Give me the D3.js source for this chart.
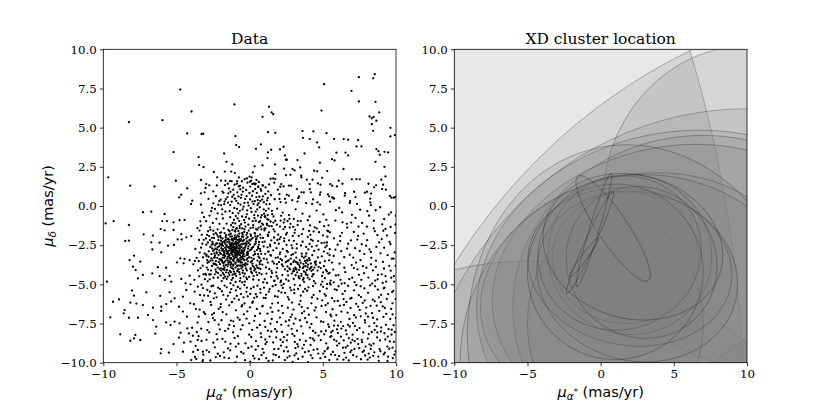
<!DOCTYPE html>
<html>
<head>
<meta charset="utf-8">
<script src="https://cdn.jsdelivr.net/npm/d3@7"></script>
<style>
  body { margin: 0; background: #fff; }
  svg { display: block; }
</style>
</head>
<body>
<div id="chart"></div>
<script>
const topPts = [
  -4.74,7.43, -1.04,6.48, -3.97,6.03, -8.25,5.35, -5.95,5.48, -4.27,4.63, -3.29,4.59, -3.17,4.61, -0.97,4.46, -0.92,3.89,
  -0.72,3.76, -5.2,3.44, -1.74,3.35, -3.49,3.12, -1.58,2.82, -1.19,2.65, -3.45,2.61, -3.15,2.48, -9.66,1.83, -8.16,1.3,
  -6.5,1.25, -5.04,1.61, -3.33,1.66, -2.45,2.17, -2.22,1.83, -1.7,2.2, -1.26,2.2, -1.01,2.1, -1.65,1.61, -1.49,1.42,
  -1.35,1.59, -0.85,1.59, -0.74,1.25, -0.19,1.76, -0.01,1.87, -2.97,1.4, -2.76,1.32, -3.01,1.15, -4.27,1.12, -4.68,0.72,
  -4.81,0.55, -3.33,0.81, -3.08,0.87, -3.92,0.34, -4.0,0.13, -3.33,0.08, -2.31,0.63, -2.07,0.31, -1.86,0.92, -1.63,0.44,
  -1.41,1.12, -2.48,0.17, -1.95,0.05, -1.69,1.33,
  7.46,8.22, 8.55,8.41, 8.44,8.15, 5.09,7.77, 6.96,7.35, 1.32,6.33, 1.5,5.97, 1.61,5.86, 0.88,5.69, 4.91,6.09,
  7.46,6.67, 8.6,6.65, 8.85,5.97, 8.19,5.71, 8.35,5.6, 8.48,5.69, 8.66,5.44, 8.35,5.22, 8.44,4.8, 9.62,4.99,
  9.62,4.44, 9.92,4.52, 1.25,4.71, 1.75,4.67, 3.61,4.78, 4.36,4.76, 5.25,4.65, 3.64,4.35, 4.11,4.27, 4.61,4.06,
  4.75,3.74, 5.77,4.27, 6.43,4.27, 6.73,4.23, 7.41,4.2, 7.3,3.8, 7.64,3.8, 0.43,3.65, 0.77,3.93, 1.25,3.42,
  1.47,3.59, 2.07,3.61, 2.32,3.78, 2.41,3.23, 2.48,2.95, 2.54,2.95, 1.22,3.06, 3.75,3.35, 3.27,2.93, 5.93,3.4,
  5.62,2.99, 5.8,2.91, 6.55,3.4, 6.73,3.23, 8.66,3.63, 8.8,3.5, 8.89,3.27, 9.21,3.46, 9.46,3.42, 8.6,2.82,
  9.21,2.5, 0.34,2.53, 0.88,2.59, 1.73,2.65, 2.36,2.38, 2.93,2.36, 3.07,2.27, 3.45,2.46, 4.8,2.76, 5.3,2.23,
  6.41,2.36, 4.41,2.25, 4.61,2.21, 0.22,2.14, 1.75,2.04, 2.48,1.97, 2.79,1.99, 3.52,1.93, 3.54,1.83, 3.91,1.68,
  4.11,1.4, 4.3,1.68, 4.96,1.8, 4.66,1.44, 4.84,1.36, 6.09,1.61, 6.98,1.7, 7.3,1.72, 7.53,1.7, 5.5,1.4,
  5.64,1.3, 5.96,1.25, 6.34,1.42, 8.12,1.42, 9.0,1.68, 9.12,1.36, 9.28,1.89, 8.5,1.19, 7.87,0.85, 8.3,0.79,
  9.69,0.53, 9.85,0.53, 0.13,1.83, 0.02,1.55, 0.18,1.4, 0.41,1.42, 0.59,1.25, 0.91,1.3, 0.75,1.08, 1.32,1.38,
  1.68,1.49, 1.75,1.72, 1.43,1.74, 1.61,1.76, 2.16,1.4, 2.09,1.23, 2.32,1.25, 2.68,1.3, 2.84,1.3, 3.23,1.08,
  3.54,0.87, 3.7,0.87, 2.54,0.72, 2.68,0.66, 2.41,0.45, 2.04,0.45, 2.11,0.25, 3.32,0.51, 3.27,0.28, 4.11,1.08,
  4.18,0.87, 4.84,0.87, 4.8,0.72, 5.34,0.74, 5.43,0.62, 5.64,0.55, 5.77,0.47, 6.5,0.66, 6.84,0.19, 7.14,0.91,
  7.23,0.57, 5.5,0.28, 4.64,0.23, 4.27,0.13, 8.25,0.23, 8.28,0.06, 9.05,1.08, 8.64,1.32
];

const leftPts = [
  -9.29,-0.96, -9.84,-1.11, -8.25,-1.21, -7.29,-0.4, -6.72,-0.36, -5.81,-0.51, -5.97,-0.96, -5.65,-0.96, -5.2,-1.04, -4.79,-0.91,
  -4.45,-0.89, -6.08,-1.47, -5.81,-1.55, -5.2,-1.53, -7.24,-1.81, -6.61,-1.89, -4.67,-1.79, -4.33,-2.0, -3.99,-1.92, -4.92,-2.13,
  -4.65,-2.13, -8.5,-2.23, -8.25,-2.21, -6.72,-2.32, -6.15,-2.34, -5.17,-2.49, -6.65,-2.77, -5.58,-2.53, -6.04,-2.96, -7.9,-3.17,
  -8.2,-3.45, -7.47,-3.55, -4.74,-3.34, -4.45,-3.38, -4.1,-3.45, -3.74,-3.51, -4.97,-3.6, -4.51,-3.66, -6.27,-3.91, -5.7,-3.94,
  -7.97,-3.87, -7.79,-4.09, -9.75,-4.83, -7.29,-4.4, -6.65,-4.3, -6.15,-4.47, -5.47,-4.47, -7.63,-4.62, -5.79,-4.72, -5.36,-4.83,
  -4.67,-4.66, -4.38,-4.94, -4.1,-4.45, -4.04,-5.0, -7.06,-5.51, -8.04,-5.4, -7.9,-5.72, -6.11,-5.74, -5.47,-5.51, -9.34,-6.11,
  -8.93,-5.96, -8.15,-6.17, -7.74,-6.23, -7.29,-6.32, -6.61,-6.49, -6.04,-6.43, -5.7,-6.26, -5.36,-6.09, -5.13,-5.89, -4.83,-6.43,
  -8.54,-6.64, -8.61,-6.85, -8.25,-7.13, -9.52,-7.11, -7.63,-7.13, -6.95,-6.96, -6.61,-7.28, -6.04,-6.7, -5.7,-7.43, -5.4,-7.6,
  -5.13,-7.38, -4.79,-7.49, -6.38,-7.7, -6.45,-8.15, -8.84,-8.19, -7.81,-8.23, -7.9,-8.45, -8.15,-8.6, -7.47,-8.55, -5.2,-8.81,
  -4.49,-8.72, -6.04,-9.13, -6.08,-9.4, -5.52,-9.36, -4.56,-9.3, -3.99,-9.83, -3.65,-9.77, -3.88,-8.28, -4.15,-8.13, -4.04,-8.66,
  -3.54,-8.55, -4.72,-8.09, -4.83,-8.4, -4.26,-7.81, -3.54,-9.19, -3.19,-9.3, -3.19,-9.83, -4.56,-6.74, -4.29,-7.06, -4.06,-6.21,
  -4.56,-5.79, -4.33,-5.36, -3.76,-5.47, -3.54,-5.15
];

const corePts = [
  -1.02,-2.84, -0.88,-2.71, -1.17,-2.96, -0.93,-3.08, -1.11,-2.55, -0.71,-2.92, -1.28,-2.74, -0.64,-2.47, -1.39,-3.18, -0.52,-3.02,
  -1.47,-2.63, -0.95,-2.27, -1.22,-2.35, -0.43,-2.71, -1.58,-3.04, -0.82,-3.39, -1.09,-3.52, -0.34,-3.21, -1.66,-2.41, -0.61,-3.61,
  -0.99,-2.12, -1.76,-2.88, -0.27,-2.53, -1.31,-3.77, -0.74,-2.16, -1.84,-3.29, -0.18,-2.98, -1.42,-2.14, -0.49,-3.88, -1.93,-2.69,
  -0.97,-2.77, -1.06,-2.93, -0.86,-2.86, -1.14,-2.66, -0.77,-2.69, -1.24,-2.91, -0.91,-2.49, -1.12,-3.21, -0.66,-3.14, -1.36,-2.44,
  -1.53,-3.36, -0.46,-2.24, -1.63,-2.17, -0.37,-3.46, -1.71,-3.56, -0.23,-2.08, -1.79,-3.67, -0.16,-3.72, -1.86,-2.29, -0.07,-2.36,
  -1.04,-2.61, -0.81,-3.01, -1.19,-3.11, -0.69,-2.81, -1.33,-2.57, -0.56,-2.63, -1.44,-2.86, -0.59,-3.27, -1.26,-3.33, -0.79,-2.39,
  -1.01,-3.01, -0.89,-3.24, -1.16,-2.41, -0.73,-3.46, -1.49,-2.96, -0.41,-2.91, -1.61,-2.77, -0.31,-2.66, -1.69,-3.19, -0.13,-3.12,
  -0.94,-2.63, -1.08,-2.79, -0.84,-2.96, -1.21,-2.59, -0.67,-2.57, -1.29,-3.04, -0.54,-2.84, -1.37,-3.31, -0.47,-3.17, -1.56,-2.51,
  -1.13,-2.22, -0.76,-3.57, -1.45,-3.62, -0.39,-2.41, -1.81,-2.54, -0.21,-3.42, -1.74,-2.99, -0.11,-2.72, -1.89,-3.49, -0.29,-3.81,
  -0.96,-2.91, -1.03,-2.69, -0.87,-2.59, -1.18,-2.83, -0.62,-2.99, -1.27,-2.49, -0.51,-2.44, -1.41,-2.68, -0.83,-3.13, -1.07,-3.37,
  -2.12,-3.13, -2.31,-3.52, -2.44,-2.04, -2.57,-3.83, -2.69,-2.61, -2.81,-3.24, -2.05,-4.01, -2.23,-2.38, -2.38,-4.36, -2.51,-2.86,
  -2.64,-4.12, -2.77,-1.92, -2.88,-3.62, -2.02,-1.71, -2.17,-4.57, -2.35,-2.72, -2.48,-1.58, -2.61,-3.34, -2.73,-4.68, -2.85,-2.33,
  -1.97,-3.98, -1.83,-4.27, -1.68,-4.51, -1.54,-4.08, -1.38,-4.41, -1.23,-4.72, -1.08,-4.19, -0.92,-4.46, -0.78,-4.03, -0.63,-4.61,
  -0.48,-4.27, -0.33,-4.83, -0.19,-4.11, -0.04,-4.52, 0.11,-4.21, 0.24,-4.69, 0.38,-4.02, 0.51,-4.41, -1.91,-4.79, -1.31,-4.93,
  -1.94,-1.68, -1.77,-1.43, -1.61,-1.86, -1.46,-1.52, -1.29,-1.77, -1.12,-1.35, -0.98,-1.63, -0.82,-1.88, -0.68,-1.41, -0.52,-1.72,
  -0.36,-1.49, -0.22,-1.84, -0.06,-1.57, 0.09,-1.91, 0.23,-1.38, 0.37,-1.76, 0.52,-1.52, -2.19,-1.49, -2.46,-1.81, -2.71,-1.36,
  0.04,-2.21, 0.16,-2.68, 0.27,-3.14, 0.41,-2.39, 0.53,-3.48, 0.08,-3.57, 0.21,-2.03, 0.34,-2.91, 0.46,-3.79, 0.58,-2.61,
  0.12,-3.31, 0.29,-3.91, 0.44,-2.12, 0.57,-3.07, 0.02,-2.83, 0.19,-3.68, 0.33,-2.47, 0.49,-2.81, 0.61,-3.97, 0.06,-3.97,
  -2.09,-2.58, -2.27,-3.77, -2.41,-3.02, -2.54,-2.29, -2.67,-3.48, -2.79,-2.89, -2.14,-2.17, -2.33,-4.06, -2.47,-3.66, -2.59,-2.47,
  -1.99,-3.44, -2.07,-2.83, -1.96,-2.21, -2.21,-3.31, -2.36,-2.51, -2.03,-3.71, -2.26,-2.94, -2.42,-3.29, -2.16,-4.28, -1.98,-4.43,
  -1.72,-3.94, -1.51,-3.85, -1.19,-3.97, -0.86,-3.83, -0.57,-3.98, -0.26,-3.99, -1.35,-4.14, -1.03,-4.34, -0.71,-4.22, -0.41,-4.49,
  -1.64,-1.99, -1.32,-1.96, -1.01,-1.87, -0.72,-1.95, -0.44,-1.97, -0.14,-1.99, -1.85,-2.07, -1.49,-2.12, -1.18,-1.53, -0.88,-1.42,
  -2.93,-3.93, -2.96,-2.47, -2.98,-4.39, -2.91,-1.84, -2.95,-3.11, -2.87,-4.81, -2.99,-2.07, -2.84,-1.61, -2.9,-3.45, -2.76,-4.37,
  -1.57,-4.66, -1.14,-4.59, -0.67,-4.79, -0.18,-4.67, 0.27,-4.46, -1.76,-4.38, -0.96,-4.85, -0.51,-4.88, -1.44,-4.27, -0.85,-4.16,
  0.64,-2.29, 0.68,-3.32, 0.72,-1.83, 0.66,-4.28, 0.71,-2.73, 0.69,-3.71, 0.75,-2.03, 0.62,-4.73, 0.79,-3.05, 0.74,-4.02
];

const core2Pts = [
  -2.71,-2.18, -2.43,-3.71, -2.19,-2.64, -1.94,-4.12, -1.67,-3.21, -1.41,-1.83, -1.16,-4.38, -0.89,-2.37, -0.63,-3.82, -0.37,-1.66,
  -0.11,-3.03, 0.16,-4.29, 0.42,-2.26, 0.68,-3.58, -2.84,-4.07, -2.57,-2.71, -2.31,-1.73, -2.06,-3.39, -1.79,-4.61, -1.53,-2.29,
  -1.27,-3.62, -1.02,-1.59, -0.76,-4.04, -0.49,-2.88, -0.23,-4.57, 0.03,-2.46, 0.29,-3.37, 0.55,-1.93, -2.96,-3.18, -2.68,-1.52,
  -2.47,-4.58, -2.24,-3.02, -1.98,-2.02, -1.72,-4.09, -1.47,-3.49, -1.21,-2.11, -0.96,-3.93, -0.71,-1.76, -0.44,-3.36, -0.18,-2.26,
  0.07,-4.05, 0.34,-1.72, 0.61,-3.24, -2.79,-3.57, -2.52,-2.42, -2.28,-4.21, -2.01,-1.91, -1.76,-3.11, -1.5,-4.51, -1.24,-2.99,
  -0.98,-3.69, -0.72,-2.13, -0.46,-4.11, -0.2,-3.12, 0.06,-1.82, 0.32,-4.12, 0.58,-2.71, -2.66,-4.36, -2.39,-3.28, -2.14,-1.97,
  -1.88,-2.84, -1.62,-3.76, -1.37,-2.37, -1.11,-4.04, -0.86,-3.48, -0.6,-2.22, -0.34,-3.71, -0.08,-2.58, 0.18,-3.49, 0.45,-4.23,
  -1.92,-2.52, -1.68,-2.67, -1.43,-3.08, -1.17,-2.79, -0.92,-3.27, -0.66,-2.71, -0.41,-3.06, -1.81,-3.14, -1.56,-2.89, -1.31,-3.41,
  -1.06,-2.42, -0.81,-2.86, -0.56,-3.42, -1.73,-2.31, -1.49,-3.24, -1.24,-2.65, -0.99,-3.14, -0.74,-2.51, -0.49,-2.97, -1.95,-3.41,
  -1.34,-2.83, -0.84,-2.33, -1.14,-3.46, -0.64,-3.32, -1.59,-2.58, -0.93,-2.04, -1.26,-3.68, -0.58,-2.12, -1.83,-2.76, -1.02,-3.28,
  -2.23,-2.77, -2.37,-3.16, -2.11,-3.57, -2.54,-3.47, -2.29,-2.41, -2.42,-2.79, -2.18,-3.93, -2.61,-3.07, -2.05,-2.39, -2.34,-3.71,
  -1.61,-4.23, -1.28,-4.22, -0.97,-4.31, -0.67,-4.36, -0.33,-4.32, -1.82,-4.03, -1.12,-3.81, -0.52,-3.61, -0.12,-3.53, 0.21,-3.82,
  -1.71,-1.73, -1.38,-1.61, -1.07,-2.08, -0.77,-1.59, -0.47,-1.83, -0.17,-1.71, 0.12,-2.12, 0.39,-1.94, -2.22,-1.84, -2.58,-2.03,
  -0.27,-2.37, 0.11,-2.77, 0.37,-3.06, 0.63,-2.47, 0.77,-3.49, 0.52,-3.92, 0.24,-2.61, -0.03,-3.27, 0.47,-2.06, 0.73,-2.88,
  -1.88,-2.42, -1.63,-3.48, -1.39,-2.27, -1.14,-3.74, -0.89,-1.98, -0.64,-3.53, -0.39,-2.17, -0.14,-3.34, -1.96,-3.06, -1.71,-2.22,
  -1.46,-3.72, -1.21,-1.94, -0.96,-3.61, -0.71,-2.28, -0.46,-3.76, -0.21,-2.43, -1.77,-3.82, -1.52,-2.08, -1.27,-3.92, -1.02,-2.01,
  -0.77,-3.79, -0.52,-1.96, -0.27,-3.64, -0.02,-2.18, -2.04,-2.97, -1.86,-3.59, -1.36,-3.56, -0.86,-2.16, -0.36,-2.81, -1.62,-2.84,
  -1.12,-2.14, -0.62,-3.79, -0.12,-2.91, -1.99,-2.47, -1.49,-3.02, -0.99,-2.37, -0.49,-3.24, -1.74,-3.31, -1.24,-2.15, -0.74,-3.07
];

const armPts = [
  -0.12,0.21, 0.08,-0.14, -0.31,0.44, 0.27,0.12, -0.48,-0.22, 0.41,-0.36, -0.62,0.09, 0.55,0.38, -0.77,-0.47, 0.69,-0.08,
  -0.91,0.33, 0.83,-0.59, -1.05,-0.12, 0.97,0.24, -1.19,0.58, 1.11,-0.31, -1.33,-0.71, 1.24,0.51, -0.19,-0.53, 0.16,0.66,
  -0.38,-0.89, 0.33,-0.77, -0.56,0.71, 0.49,0.84, -0.71,-0.96, 0.64,-1.03, -0.84,0.87, 0.79,0.97, -0.98,-1.11, 0.92,-1.19,
  -1.12,1.04, 1.07,0.77, -1.27,-1.23, 1.21,-0.84, -0.04,-0.81, 0.03,0.42, -0.24,1.02, 0.21,-0.97, -0.44,1.17, 0.38,1.09,
  -0.66,1.29, 0.58,1.21, -0.87,1.42, 0.76,-1.31, -1.03,1.36, 0.88,1.33, -0.15,1.49, 0.11,1.61, -0.34,1.71, 0.29,1.44,
  -0.53,1.58, 0.47,1.66, -0.74,1.82, 0.63,1.53, -0.09,-1.19, 0.06,-1.41, -0.29,-1.31, 0.24,-1.22, -0.51,-1.43, 0.44,-1.47,
  -0.69,-1.27, 0.61,-1.39, -0.92,-1.46, 0.81,-1.49, -1.16,-1.08, 1.01,-1.44, -1.37,-0.33, 1.17,-1.12, -1.48,0.22, 1.29,-0.17,
  -0.07,0.03, 0.13,-0.38, -0.21,0.63, 0.35,0.31, -0.42,-0.04, 0.52,-0.21, -0.59,0.52, 0.67,0.59, -0.79,0.17, 0.86,0.41,
  -0.94,-0.64, 0.99,-0.49, -1.09,0.71, 1.14,0.11, -1.23,0.27, 1.27,0.93, -0.17,-0.28, 0.19,0.28, -0.36,0.19, 0.31,-0.58,
  -0.52,-0.67, 0.46,0.57, -0.67,-0.31, 0.61,0.18, -0.82,-0.79, 0.77,-0.73, -0.01,0.83, 0.04,1.24, -0.26,-0.71, 0.22,0.94,
  -0.47,0.92, 0.42,-0.94, -0.64,1.07, 0.57,-0.62, -0.86,-0.18, 0.73,0.33, -1.01,0.47, 0.91,0.62, -1.16,-0.44, 1.04,-0.67,
  -0.33,-1.06, 0.36,1.38, -0.58,-1.16, 0.54,0.07, -0.76,0.61, 0.71,-0.97, -1.07,-0.88, 1.09,1.19, -1.31,0.91, 1.23,-0.58
];

const cloudPts = [
  0.84,-1.12, 1.03,-2.27, 1.17,-3.41, 1.32,-1.68, 1.46,-4.52, 1.61,-2.83, 1.75,-0.94, 1.89,-3.96, 2.04,-2.11, 2.18,-5.07,
  2.31,-1.47, 2.46,-3.22, 0.93,-4.88, 1.08,-0.71, 1.22,-2.64, 1.37,-5.31, 1.51,-1.29, 1.66,-3.67, 1.81,-4.23, 1.95,-1.83,
  2.09,-2.96, 2.23,-4.41, 2.38,-0.86, 2.52,-2.48, 0.87,-3.74, 1.01,-1.56, 1.15,-4.31, 1.29,-2.92, 1.43,-0.99, 1.57,-5.12,
  1.72,-2.36, 1.86,-1.19, 2.01,-3.58, 2.15,-0.63, 2.27,-3.84, 2.42,-5.54, 0.96,-2.58, 1.12,-5.66, 1.26,-1.91, 1.41,-3.13,
  1.54,-0.52, 1.69,-4.77, 1.83,-2.69, 1.98,-5.43, 2.12,-1.98, 2.26,-2.74, 2.41,-4.04, 2.55,-1.71, 0.91,-2.04, 1.06,-3.05,
  1.19,-1.21, 1.34,-4.02, 1.48,-2.19, 1.63,-1.49, 1.78,-3.31, 1.92,-4.62, 2.07,-1.31, 2.21,-3.47, 2.36,-2.25, 2.49,-4.68,
  0.82,-4.36, 1.24,-3.61, 1.67,-2.01, 2.11,-4.86, 2.47,-3.59, 1.39,-2.47, 1.86,-3.71, 0.98,-5.21, 2.33,-1.06, 1.53,-4.28,
  2.61,-2.94, 2.74,-1.37, 2.88,-4.31, 3.02,-2.22, 3.16,-3.57, 3.29,-0.96, 3.43,-3.91, 3.57,-1.79, 3.71,-4.18, 3.86,-2.61,
  3.99,-3.74, 4.13,-1.24, 4.27,-4.49, 4.41,-2.87, 2.66,-4.77, 2.81,-3.36, 2.94,-1.91, 3.08,-5.03, 3.22,-2.71, 3.36,-4.58,
  3.49,-3.62, 3.63,-3.97, 3.77,-3.51, 3.91,-4.09, 4.05,-3.33, 4.19,-2.14, 4.33,-5.11, 4.46,-3.58, 2.69,-2.19, 2.84,-5.38,
  2.97,-3.07, 3.11,-1.52, 3.25,-4.24, 3.39,-3.78, 3.53,-4.33, 3.67,-3.69, 3.81,-3.83, 3.95,-4.41, 4.09,-2.42, 4.23,-3.88,
  4.37,-1.62, 2.58,-3.86, 2.72,-0.82, 2.86,-2.51, 3.01,-4.66, 3.14,-2.97, 3.28,-1.21, 3.42,-3.46, 3.56,-3.04, 3.69,-4.61,
  3.83,-3.22, 3.97,-1.97, 4.11,-4.02, 4.25,-2.59, 4.39,-4.79, 3.17,-4.01, 3.96,-3.49, 4.33,-4.36, 2.98,-3.58, 3.35,-4.47,
  4.18,-3.94, 3.64,-4.71, 2.81,-3.71, 4.49,-3.66, 3.04,-4.14, 2.77,-5.21, 3.05,-5.56, 3.31,-5.29, 3.66,-5.47, 4.02,-5.19,
  -3.12,-0.71, -3.27,-1.84, -3.41,-2.97, -3.53,-4.11, -3.19,-5.24, -3.34,-1.26, -3.48,-3.52, -3.06,-4.67, -3.23,-2.41, -3.39,-5.68,
  -3.08,-3.03, -3.21,-3.81, -3.37,-0.98, -3.45,-4.49, -3.14,-2.16, -3.29,-5.02, -3.43,-1.57, -3.03,-4.34, -3.18,-3.28, -3.32,-2.66,
  -2.16,-5.21, -2.38,-5.57, -2.61,-5.12, -2.84,-5.73, -2.27,-0.82, -2.52,-1.08, -2.74,-0.61, -2.06,-1.14, -2.89,-5.36, -2.45,-5.89,
  -2.19,-0.47, -2.63,-0.33, -1.89,-5.44, -1.71,-5.08, -1.49,-5.73, -1.26,-5.31, -1.04,-5.91, -0.81,-5.17, -0.59,-5.62, -0.36,-5.04,
  -0.13,-5.77, 0.09,-5.28, 0.31,-5.86, 0.53,-5.09, 0.74,-5.54, -1.61,-5.97, -0.94,-5.39, -0.22,-5.48, 0.42,-5.63, -1.83,-0.79,
  -1.66,-0.36, -1.58,-1.13, -1.74,0.12, -1.87,-0.53, -1.98,0.41, -2.14,0.08, -2.37,-0.19, -1.52,0.57, -1.79,0.84,
  4.58,-1.43, 4.71,-2.79, 4.86,-3.96, 5.01,-1.88, 5.14,-4.61, 5.29,-2.33, 5.43,-3.47, 4.64,-4.12, 4.79,-1.02, 4.93,-3.21,
  5.07,-2.91, 5.21,-4.07, 5.36,-1.61, 4.52,-3.54, 4.97,-4.83, 5.24,-0.88, 5.47,-2.76, 4.68,-2.24
];

const cloud2Pts = [
  1.08,-1.43, 1.27,-2.91, 1.49,-4.14, 1.71,-1.62, 1.93,-3.28, 2.14,-4.77, 2.36,-2.06, 2.58,-3.51, 2.79,-1.14, 3.01,-4.02,
  3.22,-2.43, 3.44,-5.07, 3.66,-1.48, 3.87,-3.03, 4.09,-4.68, 4.31,-2.21, 4.52,-3.76, 4.74,-1.67, 4.95,-4.46, 5.17,-2.64,
  0.97,-3.36, 1.19,-4.91, 1.41,-2.57, 1.62,-1.06, 1.84,-4.48, 2.06,-3.07, 2.27,-5.23, 2.49,-1.82, 2.71,-3.98, 2.92,-2.69,
  3.14,-4.42, 3.35,-1.91, 3.57,-3.21, 3.79,-5.29, 4.01,-2.77, 4.22,-4.14, 4.44,-1.36, 4.66,-3.28, 4.87,-5.02, 5.09,-1.29,
  0.88,-2.31, 1.11,-3.92, 1.33,-1.28, 1.56,-3.54, 1.77,-5.04, 1.99,-2.41, 2.2,-3.73, 2.42,-1.34, 2.63,-4.43, 2.85,-3.14,
  3.07,-1.71, 3.28,-3.69, 3.51,-2.52, 3.72,-4.84, 3.93,-3.46, 4.15,-1.84, 4.37,-4.36, 4.58,-2.53, 4.81,-3.62, 5.02,-4.24,
  1.03,-4.67, 1.24,-1.83, 1.46,-3.17, 1.68,-4.79, 1.89,-2.17, 2.11,-3.38, 2.33,-4.97, 2.54,-2.86, 2.76,-4.04, 2.98,-1.33,
  3.19,-3.29, 3.41,-4.62, 3.62,-2.28, 3.84,-4.37, 4.06,-1.59, 4.28,-3.14, 4.49,-4.94, 4.71,-3.89, 4.92,-2.37, 5.14,-3.52,
  2.83,-3.71, 3.12,-3.93, 3.38,-4.08, 3.69,-3.87, 3.96,-3.91, 4.18,-3.67, 2.96,-4.18, 3.27,-3.62, 3.54,-4.46, 3.82,-4.24,
  4.11,-3.45, 4.34,-4.07, 2.67,-3.47, 3.04,-3.48, 3.71,-3.29, 4.43,-3.93, 3.19,-4.06, 3.97,-4.57, 2.59,-4.16, 3.86,-3.63,
  -3.24,-0.43, -3.46,-2.17, -3.62,-3.31, -3.77,-4.71, -3.11,-5.71, -3.57,-1.41, -3.71,-2.74, -3.36,-3.96, -3.85,-3.72, -3.16,-4.36,
  -2.97,-0.97, -2.72,-5.47, -2.49,-5.09, -2.26,-5.83, -2.03,-5.29, -1.8,-5.67, -1.57,-5.19, -1.34,-5.52, -1.11,-5.06, -0.88,-5.74,
  -0.65,-5.27, -0.42,-5.83, -0.19,-5.21, 0.04,-5.61, 0.27,-5.17, 0.5,-5.79, 0.73,-5.31, 0.96,-5.86, -2.67,-6.12, -1.97,-6.26,
  -1.22,-6.14, -0.51,-6.33, 0.18,-6.18, 0.87,-6.41, 1.54,-6.23, 2.21,-6.37, 2.89,-6.16, 3.56,-6.44, 4.22,-6.21, 4.91,-6.38,
  1.31,-5.47, 1.73,-5.76, 2.17,-5.52, 2.61,-5.81, 3.04,-5.34, 3.49,-5.72, 3.93,-5.41, 4.37,-5.68, 4.79,-5.44, 5.21,-5.73,
  -2.48,0.93, -2.24,1.31, -1.96,1.62, -1.71,0.29, -1.46,0.81, -1.23,1.58, -2.81,0.46, -2.57,-0.12, -1.33,0.06, -1.87,-0.21,
  1.37,0.12, 1.52,-0.31, 1.71,0.43, 1.88,-0.17, 2.04,0.76, 2.26,-0.42, 2.47,0.21, 2.69,-0.58, 2.91,0.37, 3.14,-0.21,
  3.38,0.62, 3.61,-0.49, 3.86,0.18, 4.09,-0.67, 4.33,0.42, 4.57,-0.29, 4.81,0.09, 5.04,-0.54, 1.46,0.69, 1.93,1.04,
  0.96,-0.21, 1.19,0.36, 1.04,-0.67, 1.29,-0.88, 1.63,-0.67, 2.12,-0.93, 2.59,-0.97, 3.02,-0.83, 3.49,-0.96, 3.97,-0.91,
  5.31,-1.96, 5.46,-3.14, 5.38,-4.31, 5.49,-4.92, 5.27,-5.27
];

const eastPts = [
  5.12,-5.63, 5.34,-6.21, 5.58,-7.04, 5.81,-5.32, 6.03,-8.11, 6.27,-6.74, 6.49,-4.93, 6.72,-7.58, 6.96,-5.87, 7.18,-8.63,
  7.41,-6.42, 7.63,-4.71, 7.87,-7.29, 8.09,-5.54, 8.31,-8.91, 8.54,-6.08, 8.77,-4.39, 8.99,-7.76, 9.21,-5.21, 9.44,-8.34,
  9.67,-6.57, 9.88,-4.82, 5.23,-8.77, 5.46,-4.27, 5.69,-9.31, 5.92,-6.96, 6.14,-3.68, 6.38,-9.04, 6.61,-6.12, 6.84,-3.11,
  7.07,-9.52, 7.29,-5.04, 7.52,-2.87, 7.76,-8.07, 7.98,-3.94, 8.21,-9.67, 8.43,-7.13, 8.66,-2.61, 8.88,-9.13, 9.11,-3.57,
  9.33,-6.88, 9.56,-2.29, 9.78,-9.71, 5.04,-7.41, 5.27,-2.53, 5.51,-8.36, 5.74,-3.19, 5.97,-7.87, 6.19,-1.92, 6.43,-8.58,
  6.66,-2.72, 6.89,-6.51, 7.12,-1.66, 7.34,-7.92, 7.57,-3.46, 7.81,-9.23, 8.03,-2.18, 8.26,-6.37, 8.48,-1.43, 8.71,-8.39,
  8.94,-3.02, 9.16,-9.47, 9.39,-1.89, 9.61,-7.21, 9.83,-3.36, 5.16,-9.63, 5.39,-1.24, 5.63,-5.88, 5.86,-0.93, 6.08,-5.12,
  6.32,-0.41, 6.54,-4.22, 6.77,-9.86, 7.01,-4.58, 7.23,-0.76, 7.46,-5.69, 7.69,-1.08, 7.93,-6.86, 8.16,-0.62, 8.38,-4.96,
  8.61,-0.27, 8.83,-5.83, 9.06,-1.17, 9.28,-4.47, 9.51,-0.55, 9.73,-5.49, 9.94,-1.72, 5.08,-3.84, 5.31,-9.12, 5.54,-4.76,
  5.77,-8.53, 6.01,-2.47, 6.23,-7.39, 6.46,-3.27, 6.69,-8.92, 6.92,-2.19, 7.14,-6.97, 7.37,-4.04, 7.61,-9.78, 7.84,-5.26,
  8.07,-8.46, 8.29,-3.73, 8.52,-9.34, 8.74,-4.68, 8.97,-8.01, 9.19,-2.66, 9.42,-9.89, 9.64,-4.13, 9.86,-8.67, 5.19,-6.33,
  5.42,-7.72, 5.66,-6.59, 5.89,-4.43, 6.11,-9.58, 6.35,-5.61, 6.58,-7.94, 6.81,-4.67, 7.04,-8.21, 7.27,-3.61, 7.49,-9.07,
  7.73,-6.18, 7.96,-2.53, 8.18,-7.68, 8.41,-5.97, 8.63,-3.48, 8.86,-6.69, 9.09,-4.91, 9.31,-7.58, 9.54,-3.82, 9.76,-6.21,
  9.97,-9.28, 5.29,-4.99, 5.52,-6.94, 5.76,-2.06, 5.99,-9.79, 6.21,-4.71, 6.44,-6.31, 6.67,-1.38, 6.91,-8.72, 7.13,-5.38,
  7.36,-2.14, 7.59,-7.04, 7.82,-4.29, 8.06,-9.81, 8.28,-2.93, 8.51,-7.47, 8.73,-1.86, 8.96,-6.14, 9.18,-3.99, 9.41,-8.97,
  9.63,-1.34, 9.84,-7.61, 5.09,-8.19, 5.33,-3.02, 5.56,-9.48, 5.79,-7.32, 6.02,-6.06, 6.26,-2.88, 6.48,-9.37, 6.73,-5.09,
  6.97,-3.77, 7.19,-7.66, 7.42,-8.81, 7.66,-2.44, 7.89,-9.54, 8.11,-4.57, 8.34,-8.04, 8.57,-5.12, 8.79,-9.61, 9.02,-2.11,
  9.24,-6.51, 9.47,-5.63, 9.69,-8.21, 9.91,-2.96, 6.12,-0.12, 6.86,0.31, 7.55,-0.24, 8.24,0.47, 8.92,-0.08, 9.59,0.64,
  5.71,0.51, 6.52,0.82, 7.33,0.14, 8.02,0.91, 9.31,1.04, 9.96,0.58, 9.99,-0.62, 9.98,-3.81, 9.97,-5.94, 9.99,-7.14,
  5.36,-9.04, 5.93,-8.62, 6.41,-9.81, 6.88,-9.33, 7.37,-8.48, 7.92,-8.97, 8.44,-9.56, 8.93,-9.27, 9.46,-9.62, 9.89,-9.49,
  5.58,-8.31, 6.12,-8.77, 6.63,-8.19, 7.16,-9.12, 7.68,-8.69, 8.19,-8.83, 8.72,-8.07, 9.27,-8.52, 9.76,-9.04, 5.21,-7.96,
  4.62,-9.14, 4.14,-8.41, 3.62,-9.62, 3.09,-8.68, 2.62,-9.28, 2.11,-8.53, 1.58,-9.86, 1.08,-8.81, 4.86,-8.56, 4.29,-9.71,
  6.27,-7.82, 6.84,-7.69, 7.51,-7.79, 8.14,-8.18, 8.68,-7.67, 9.21,-8.12, 9.71,-7.89, 5.76,-7.63, 5.03,-9.42, 7.02,-8.54
];

const east2Pts = [
  5.22,-6.77, 5.71,-4.06, 6.24,-8.34, 6.73,-2.41, 7.26,-7.11, 7.74,-3.84, 8.27,-9.12, 8.76,-5.34, 9.28,-1.46, 9.77,-6.92,
  5.49,-1.68, 5.98,-8.91, 6.51,-5.43, 6.99,-0.56, 7.52,-6.63, 8.01,-1.32, 8.54,-7.91, 9.03,-4.36, 9.54,-9.11, 5.13,-9.27,
  5.63,-3.61, 6.16,-6.36, 6.64,-1.14, 7.17,-4.86, 7.66,-8.54, 8.19,-2.77, 8.68,-6.36, 9.19,-0.83, 9.68,-4.58, 5.37,-7.56,
  5.86,-2.79, 6.39,-7.66, 6.87,-5.91, 7.41,-1.91, 7.89,-7.44, 8.42,-4.11, 8.91,-8.58, 9.43,-3.14, 9.92,-8.04, 5.02,-5.16,
  5.57,-8.06, 6.07,-4.41, 6.59,-9.67, 7.08,-3.29, 7.61,-5.81, 8.13,-9.42, 8.62,-3.89, 9.14,-7.08, 9.62,-2.44, 5.28,-4.17,
  5.79,-6.07, 6.31,-1.71, 6.82,-7.21, 7.31,-9.61, 7.83,-3.07, 8.36,-6.84, 8.85,-2.33, 9.37,-5.93, 9.86,-4.47, 5.44,-9.83,
  5.95,-5.36, 6.47,-3.94, 6.96,-9.21, 7.47,-4.39, 7.97,-6.48, 8.49,-0.94, 8.98,-5.67, 9.49,-7.86, 9.97,-1.18, 5.67,-7.97,
  6.18,-2.24, 6.69,-6.81, 7.21,-2.69, 7.72,-9.31, 8.23,-5.07, 8.71,-7.24, 9.24,-9.36, 9.72,-3.36, 5.11,-2.34, 5.84,-9.52,
  6.28,-4.96, 6.78,-8.43, 7.28,-6.24, 7.79,-1.77, 8.31,-3.31, 8.82,-9.88, 9.33,-4.83, 9.81,-5.42, 5.53,-5.02, 6.04,-7.63,
  6.56,-9.03, 7.06,-7.46, 7.58,-5.12, 8.09,-7.06, 8.58,-4.76, 9.09,-6.41, 9.58,-8.64, 5.74,-4.88, 6.42,-5.94, 7.12,-3.96,
  7.86,-6.03, 8.47,-8.78, 9.16,-5.26, 5.31,-1.57, 6.35,-1.04, 7.44,-1.31, 8.55,-1.61, 9.66,-0.41, 5.89,-0.27, 6.94,-1.06,
  8.04,-0.33, 9.13,-1.58
];

const southPts = [
  -3.81,-6.27, -3.56,-7.44, -3.29,-8.61, -3.04,-6.89, -2.77,-9.32, -2.51,-7.15, -2.26,-8.18, -1.99,-6.46, -1.73,-9.67, -1.47,-7.83,
  -1.21,-6.12, -0.94,-8.97, -0.68,-7.26, -0.42,-9.41, -0.16,-6.73, 0.11,-8.36, 0.37,-7.02, 0.63,-9.78, 0.89,-6.38, 1.16,-8.69,
  1.42,-7.51, 1.68,-9.14, 1.94,-6.18, 2.21,-8.04, 2.47,-7.37, 2.73,-9.58, 2.99,-6.61, 3.26,-8.82, 3.52,-7.68, 3.78,-9.33,
  4.04,-6.94, 4.31,-8.47, 4.57,-7.11, 4.83,-9.71, -3.69,-8.93, -3.42,-6.61, -3.16,-9.49, -2.89,-7.92, -2.63,-6.31, -2.38,-9.02,
  -2.12,-7.57, -1.86,-8.48, -1.59,-6.91, -1.33,-9.21, -1.07,-7.66, -0.81,-8.31, -0.55,-6.41, -0.29,-8.77, -0.03,-7.49, 0.24,-9.56,
  0.49,-6.57, 0.76,-8.13, 1.02,-7.34, 1.29,-9.89, 1.55,-6.76, 1.81,-8.39, 2.07,-7.12, 2.34,-9.27, 2.61,-6.49, 2.87,-7.84,
  3.13,-9.07, 3.39,-6.28, 3.65,-8.14, 3.91,-7.42, 4.18,-9.53, 4.44,-6.67, 4.71,-8.27, 4.96,-6.02, -3.93,-7.77, -3.74,-9.63,
  -3.48,-7.06, -3.21,-6.04, -2.95,-8.54, -2.69,-9.86, -2.44,-6.84, -2.18,-9.43, -1.92,-7.29, -1.66,-8.67, -1.39,-6.34, -1.13,-8.06,
  -0.87,-9.62, -0.61,-7.87, -0.35,-6.22, -0.09,-9.06, 0.17,-7.91, 0.43,-8.62, 0.69,-7.59, 0.96,-9.36, 1.22,-6.87, 1.48,-8.01,
  1.74,-7.86, 2.01,-9.63, 2.27,-6.83, 2.54,-8.58, 2.8,-7.09, 3.06,-8.29, 3.32,-9.76, 3.58,-6.84, 3.84,-8.61, 4.11,-7.76,
  4.37,-9.18, 4.63,-5.92, 4.89,-8.01, -0.74,-5.98, 0.22,-6.11, 1.09,-5.87, 1.91,-5.79, 2.68,-5.96, 3.47,-6.07, 4.26,-5.84,
  0.58,-8.94, 1.36,-8.33, 2.14,-8.91, 2.92,-8.17, 3.71,-8.86, 4.49,-8.09, 0.31,-7.33, 1.07,-7.72, 1.87,-7.41, 2.66,-7.63,
  3.44,-7.29, 4.22,-7.53, -0.48,-7.61, -1.28,-7.31, -2.04,-7.87, -2.82,-7.41, -3.61,-8.04, 1.63,-9.47, 2.41,-9.83, 3.19,-9.41,
  -1.42,-9.71, -2.31,-9.64, 0.04,-9.93, 0.81,-9.52, 3.98,-9.97, 2.93,-9.95, -0.97,-9.98, 1.97,-9.12, 2.57,-8.22, 3.13,-7.19
];

const south2Pts = [
  -3.67,-6.58, -3.31,-7.83, -2.94,-9.21, -2.57,-6.93, -2.21,-8.52, -1.84,-6.77, -1.48,-9.09, -1.12,-7.36, -0.76,-8.79, -0.39,-6.91,
  -0.03,-8.21, 0.33,-9.73, 0.71,-6.86, 1.07,-8.52, 1.43,-6.49, 1.79,-9.52, 2.16,-7.58, 2.52,-9.01, 2.89,-6.93, 3.24,-7.96,
  3.61,-9.08, 3.97,-6.52, 4.33,-7.97, 4.69,-9.42, -3.49,-8.31, -3.13,-6.78, -2.76,-8.07, -2.39,-7.29, -2.03,-9.57, -1.67,-7.97,
  -1.31,-8.79, -0.94,-6.66, -0.58,-9.31, -0.21,-7.19, 0.14,-8.97, 0.51,-7.76, 0.88,-9.12, 1.24,-7.96, 1.61,-8.71, 1.97,-6.68,
  2.34,-8.37, 2.7,-7.29, 3.07,-9.53, 3.43,-8.54, 3.79,-7.16, 4.16,-8.87, 4.52,-6.47, 4.87,-7.37, -3.86,-9.31, -3.22,-9.91,
  -2.48,-8.72, -1.77,-9.34, -1.03,-8.42, -0.31,-9.84, 0.41,-9.17, 1.13,-9.71, 1.86,-8.01, 2.58,-9.67, 3.31,-8.97, 4.03,-9.27,
  -0.82,-7.12, 0.02,-6.47, 0.79,-8.37, 1.51,-7.21, 2.27,-8.69, 3.01,-7.51, 3.73,-6.72, 4.41,-8.58, -2.12,-6.56, -1.39,-7.59
];

// XD components as drawn: [centre x, centre y, semi-axis a, semi-axis b, angle of a in degrees]
const clusters = [
  [-66.0, -13.5, 75.8, 75.8, 0],
  [21.9, -25.1, 38.4, 38.4, 0],
  [10.0, -16.7, 22.9, 22.9, 0],
  [-4.8, -26.9, 23.4, 23.4, 0],
  [10.0, 0.0, 9.9, 10.2, 0],
  [12.5, -14.5, 6.5, 6.5, 0],
  [6.0, -6.0, 14.5, 10.8, 5],
  [7.0, -6.5, 13.0, 11.0, 0],
  [5.0, -5.0, 12.5, 8.8, 10],
  [2.5, -5.5, 10.8, 7.5, 10],
  [1.0, -7.5, 6.0, 7.0, 0],
  [3.0, -10.0, 12.6, 12.0, 0],
  [2.5, -9.0, 11.5, 13.0, 15],
  [1.7, -3.3, 5.0, 4.2, 0],
  [2.0, -3.1, 5.6, 5.1, -5],
  [2.0, -3.9, 7.0, 5.0, -8],
  [2.5, -4.5, 6.9, 5.4, -10],
  [1.3, -3.0, 5.6, 4.9, 10],
  [2.8, -3.6, 5.2, 4.8, -20],
  [1.0, -4.2, 6.0, 5.6, 0],
  [2.2, -2.6, 6.2, 4.6, -12],
  [0.85, -1.43, 4.1, 1.0, -54],
  [-0.72, -2.33, 3.61, 0.35, 64],
  [-0.45, -1.53, 3.81, 0.33, 72],
  [-1.13, -3.28, 1.56, 0.2, 52]
];

const yTicks = [-10, -7.5, -5, -2.5, 0, 2.5, 5, 7.5, 10];
const xTicks = [-10, -5, 0, 5, 10];

const width = 830, height = 415;
const plotTop = 49.3, plotBottom = 362.7;
const panels = [
    { left: 103.3, right: 396, title: "Data" },
    { left: 454.3, right: 747, title: "XD cluster location" }
];

const svg = d3.select("#chart")
    .append("svg")
    .attr("width", width)
    .attr("height", height);

function toPairs(flat) {
    const out = [];
    for (let i = 0; i < flat.length; i += 2) out.push([flat[i], flat[i + 1]]);
    return out;
}

const points = [topPts, leftPts, corePts, core2Pts, armPts, cloudPts, cloud2Pts, eastPts, east2Pts, southPts, south2Pts]
    .flatMap(toPairs);

// outline of one component, in data units
function ellipseOutline(c) {
    const [cx, cy, a, b, deg] = c;
    const th = deg * Math.PI / 180;
    const n = 1440;
    return d3.range(n).map(i => {
        const t = 2 * Math.PI * i / n;
        return [
            cx + a * Math.cos(t) * Math.cos(th) - b * Math.sin(t) * Math.sin(th),
            cy + a * Math.cos(t) * Math.sin(th) + b * Math.sin(t) * Math.cos(th)
        ];
    });
}

panels.forEach((p, i) => {
    const x = d3.scaleLinear().domain([-10, 10]).range([p.left, p.right]);
    const y = d3.scaleLinear().domain([-10, 10]).range([plotBottom, plotTop]);

    const clipId = "clip" + i;
    svg.append("clipPath").attr("id", clipId)
        .append("rect")
        .attr("x", p.left).attr("y", plotTop)
        .attr("width", p.right - p.left).attr("height", plotBottom - plotTop);

    const plot = svg.append("g").attr("clip-path", `url(#${clipId})`);

    if (i === 0) {
        plot.selectAll("circle")
            .data(points)
            .enter()
            .append("circle")
            .attr("cx", d => x(d[0]))
            .attr("cy", d => y(d[1]))
            .attr("r", 1.15)
            .style("fill", "#000");
    } else {
        const line = d3.line()
            .x(d => x(d[0]))
            .y(d => y(d[1]))
            .curve(d3.curveLinearClosed);
        plot.selectAll("path")
            .data(clusters)
            .enter()
            .append("path")
            .attr("d", d => line(ellipseOutline(d)))
            .style("fill", "#808080")
            .style("fill-opacity", 0.18)
            .style("stroke", "#000")
            .style("stroke-opacity", 0.35)
            .style("stroke-width", 0.8);
    }

    const xAxis = d3.axisBottom(x)
        .tickValues(xTicks)
        .tickFormat(d3.format("d"))
        .tickSize(3.5)
        .tickPadding(3.5);
    const yAxis = d3.axisLeft(y)
        .tickValues(yTicks)
        .tickFormat(d3.format(".1f"))
        .tickSize(3.5)
        .tickPadding(3);

    [svg.append("g").attr("transform", `translate(0, ${plotBottom})`).call(xAxis),
     svg.append("g").attr("transform", `translate(${p.left}, 0)`).call(yAxis)]
        .forEach(g => {
            g.select(".domain").remove();
            g.selectAll("line").style("stroke", "#000").style("stroke-width", 0.8);
            g.selectAll("text")
                .style("font-family", "'DejaVu Serif', serif")
                .style("font-size", "11.8px")
                .style("fill", "#000");
        });

    svg.append("rect")
        .attr("x", p.left).attr("y", plotTop)
        .attr("width", p.right - p.left).attr("height", plotBottom - plotTop)
        .style("fill", "none")
        .style("stroke", "#000")
        .style("stroke-width", 0.8);

    svg.append("text")
        .attr("x", (p.left + p.right) / 2)
        .attr("y", 44)
        .attr("text-anchor", "middle")
        .style("font-family", "'DejaVu Serif', serif")
        .style("font-size", "15.5px")
        .text(p.title);

    const xl = svg.append("text")
        .attr("x", (p.left + p.right) / 2)
        .attr("y", 397)
        .attr("text-anchor", "middle")
        .style("font-family", "'DejaVu Sans', sans-serif")
        .style("font-size", "14.5px");
    xl.append("tspan").style("font-style", "italic").text("μ");
    xl.append("tspan").style("font-style", "italic").style("font-size", "10.5px").attr("dy", 3).text("α");
    xl.append("tspan").style("font-size", "8.5px").attr("dy", -5).text("*");
    xl.append("tspan").attr("dy", 2).text(" (mas/yr)");
});

const yl = svg.append("text")
    .attr("transform", `translate(53, ${(plotTop + plotBottom) / 2}) rotate(-90)`)
    .attr("text-anchor", "middle")
    .style("font-family", "'DejaVu Sans', sans-serif")
    .style("font-size", "14.5px");
yl.append("tspan").style("font-style", "italic").text("μ");
yl.append("tspan").style("font-style", "italic").style("font-size", "10.5px").attr("dy", 3).text("δ");
yl.append("tspan").attr("dy", -3).text(" (mas/yr)");
</script>
</body>
</html>
